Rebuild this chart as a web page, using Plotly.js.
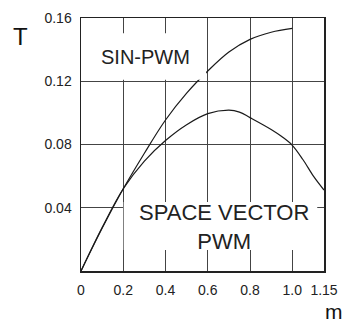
<!DOCTYPE html>
<html>
<head>
<meta charset="utf-8">
<script src="https://cdn.plot.ly/plotly-3.0.1.min.js"></script>
<style>html,body{margin:0;padding:0;background:#fff}#c{width:347px;height:325px}</style>
</head>
<body>
<div id="c"></div>
<script>
// SIN-PWM curve
var mSin = [0, 0.1, 0.2, 0.3, 0.4, 0.5, 0.6, 0.7, 0.8, 0.9, 1.0];
var tSin = [0, 0.027, 0.052, 0.0745, 0.0955, 0.1125, 0.1265, 0.1385, 0.1465, 0.151, 0.1534];
// SPACE VECTOR PWM curve
var mSv = [0, 0.1, 0.2, 0.3, 0.4, 0.5, 0.6, 0.7, 0.75, 0.8, 0.9, 0.95, 1.0, 1.05, 1.1, 1.15];
var tSv = [0, 0.0275, 0.052, 0.0695, 0.0825, 0.0925, 0.0995, 0.1017, 0.1005, 0.097, 0.0895, 0.085, 0.0795, 0.0705, 0.060, 0.0512];
// axis ticks
var xTickVals = [0, 0.2, 0.4, 0.6, 0.8, 1.0, 1.15];
var xTickText = ['0', '0.2', '0.4', '0.6', '0.8', '1.0', '1.15'];
var yTickVals = [0.04, 0.08, 0.12, 0.16];
var yTickText = ['0.04', '0.08', '0.12', '0.16'];
var labelSin = 'SIN-PWM';
var labelSv = 'SPACE VECTOR<br>PWM';

var F = 'Liberation Sans, Arial, sans-serif';
var traces = [
  {x: mSin, y: tSin, mode: 'lines', line: {color: '#1a1a1a', width: 1.2, shape: 'spline', smoothing: 1}, hoverinfo: 'skip'},
  {x: mSv, y: tSv, mode: 'lines', line: {color: '#1a1a1a', width: 1.2, shape: 'spline', smoothing: 1}, hoverinfo: 'skip'}
];
var layout = {
  width: 347, height: 325,
  margin: {l: 81, r: 23, t: 18, b: 54},
  paper_bgcolor: '#fff', plot_bgcolor: '#fff',
  showlegend: false,
  font: {family: F, color: '#222', size: 14},
  xaxis: {
    range: [0, 1.15], tickmode: 'array', tickvals: xTickVals, ticktext: xTickText,
    showgrid: true, gridcolor: '#444', gridwidth: 1, zeroline: false,
    showline: true, linecolor: '#222', linewidth: 1.5, mirror: true,
    ticks: '', ticklabelstandoff: 6, tickfont: {family: F, size: 14, color: '#222'}, fixedrange: true
  },
  yaxis: {
    range: [0, 0.16], tickmode: 'array', tickvals: yTickVals, ticktext: yTickText,
    showgrid: true, gridcolor: '#444', gridwidth: 1, zeroline: false,
    showline: true, linecolor: '#222', linewidth: 1.5, mirror: true,
    ticks: '', ticklabelstandoff: 5, tickfont: {family: F, size: 14, color: '#222'}, fixedrange: true
  },
  shapes: [
    {type: 'rect', xref: 'x', yref: 'y', x0: 0.02, x1: 0.592, y0: 0.1209, y1: 0.1504, fillcolor: '#fff', line: {width: 0}, layer: 'above'},
    {type: 'rect', xref: 'x', yref: 'y', x0: 0.202, x1: 1.118, y0: 0.0133, y1: 0.0436, fillcolor: '#fff', line: {width: 0}, layer: 'above'}
  ],
  annotations: [
    {text: labelSin, xref: 'x', yref: 'y', x: 0.306, y: 0.1355, xanchor: 'center', yanchor: 'middle', showarrow: false, font: {family: F, size: 20, color: '#222'}},
    {text: labelSv, xref: 'x', yref: 'y', x: 0.678, y: 0.0281, xanchor: 'center', yanchor: 'middle', align: 'center', showarrow: false, font: {family: F, size: 22, color: '#222'}},
    {text: 'T', xref: 'paper', yref: 'paper', x: -0.251, y: 0.925, xanchor: 'center', yanchor: 'middle', showarrow: false, font: {family: F, size: 24, color: '#111'}},
    {text: 'm', xref: 'paper', yref: 'paper', x: 1.04, y: -0.162, xanchor: 'center', yanchor: 'middle', showarrow: false, font: {family: F, size: 21, color: '#111'}}
  ]
};
Plotly.newPlot('c', traces, layout, {staticPlot: true, displayModeBar: false});
</script>
</body>
</html>
